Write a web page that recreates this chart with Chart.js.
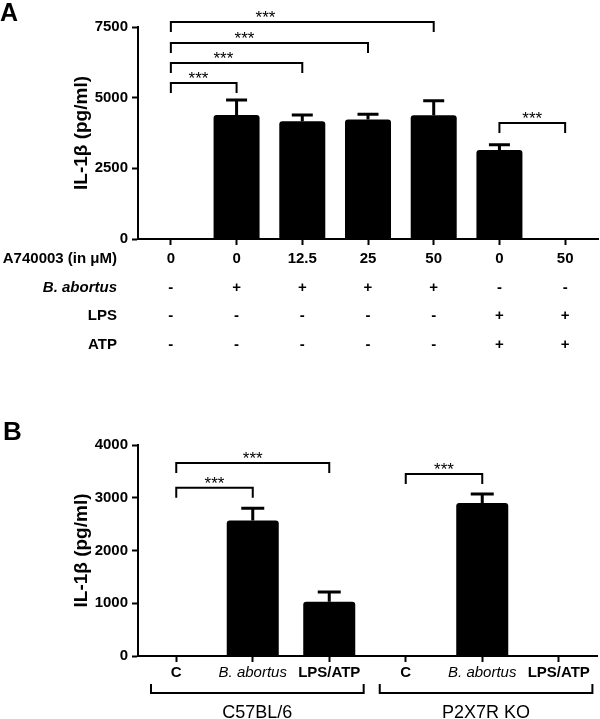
<!DOCTYPE html>
<html>
<head>
<meta charset="utf-8">
<script src="https://cdn.jsdelivr.net/npm/chart.js@4.4.1/dist/chart.umd.min.js"></script>
<style>
body{margin:0;background:#fff;}
#wrap{position:relative;width:600px;height:719px;}
#chart-a{position:absolute;left:0;top:0;}
#chart-b{position:absolute;left:0;top:370px;}
</style>
</head>
<body>
<div id="wrap">
<canvas id="chart-a" width="600" height="370"></canvas>
<canvas id="chart-b" width="600" height="349"></canvas>
</div>
<script>
// panel A
var doseA = ["0", "0", "12.5", "25", "50", "0", "50"];
var abortusA = ["-", "+", "+", "+", "+", "-", "-"];
var lpsA = ["-", "-", "-", "-", "-", "+", "+"];
var atpA = ["-", "-", "-", "-", "-", "+", "+"];
var il1bA = [0, 4390, 4170, 4230, 4380, 3150, 0];
var semA = [0, 530, 215, 180, 510, 180, 0];
var ticksA = [0, 2500, 5000, 7500];
var rowNamesA = ["A740003 (in \u03bcM)", "B. abortus", "LPS", "ATP"];
// [from, to, bracket height (pg/ml), where the stars sit]
var sigA = [[0, 1, 5520, 0.42], [0, 2, 6230, 0.8], [0, 3, 6930, 1.12], [0, 4, 7680, 1.44], [5, 6, 4100, 5.5]];

// panel B
var groupsB = ["C", "B. abortus", "LPS/ATP", "C", "B. abortus", "LPS/ATP"];
var il1bB = [0, 2570, 1030, 0, 2900, 0];
var semB = [0, 230, 185, 0, 170, 0];
var ticksB = [0, 1000, 2000, 3000, 4000];
var sigB = [[0, 1, 3190, 0.5], [0, 2, 3660, 1], [3, 4, 3450, 3.5]];
var strainB = [["C57BL/6", -0.33, 2.45], ["P2X7R KO", 2.66, 5.44]];

var FONT = "'Liberation Sans', Arial, Helvetica, sans-serif";
var TICK_LEN = 6;

function errorBars(sem, cap) {
    return {
        id: 'errbars',
        afterDatasetsDraw: function (chart) {
            var ctx = chart.ctx, y = chart.scales.y;
            var vals = chart.data.datasets[0].data;
            ctx.save();
            ctx.strokeStyle = '#000';
            ctx.lineWidth = 3;
            chart.getDatasetMeta(0).data.forEach(function (bar, i) {
                if (!sem[i]) return;
                var top = y.getPixelForValue(vals[i] + sem[i]);
                ctx.beginPath();
                ctx.moveTo(bar.x, bar.y);
                ctx.lineTo(bar.x, top);
                ctx.moveTo(bar.x - cap / 2, top);
                ctx.lineTo(bar.x + cap / 2, top);
                ctx.stroke();
            });
            ctx.restore();
        }
    };
}

function brackets(sig) {
    return {
        id: 'sig',
        afterDatasetsDraw: function (chart) {
            var ctx = chart.ctx, x = chart.scales.x, y = chart.scales.y;
            ctx.save();
            ctx.strokeStyle = '#000';
            ctx.fillStyle = '#000';
            ctx.lineWidth = 2;
            ctx.font = '17px ' + FONT;
            ctx.textAlign = 'center';
            ctx.textBaseline = 'alphabetic';
            sig.forEach(function (s) {
                var x1 = x.getPixelForValue(s[0]), x2 = x.getPixelForValue(s[1]);
                var yy = y.getPixelForValue(s[2]);
                ctx.beginPath();
                ctx.moveTo(x1, yy + 10);
                ctx.lineTo(x1, yy);
                ctx.lineTo(x2, yy);
                ctx.lineTo(x2, yy + 10);
                ctx.stroke();
                ctx.fillText('***', x.getPixelForValue(s[3]), yy + 1);
            });
            ctx.restore();
        }
    };
}

function panelLetter(letter, px, py, size) {
    return {
        id: 'letter',
        afterDraw: function (chart) {
            var ctx = chart.ctx;
            ctx.save();
            ctx.fillStyle = '#000';
            ctx.font = 'bold ' + size + 'px ' + FONT;
            ctx.textAlign = 'left';
            ctx.textBaseline = 'alphabetic';
            ctx.fillText(letter, px, py);
            ctx.restore();
        }
    };
}

function yAxis(ticks, max) {
    return {
        min: 0,
        max: max,
        afterBuildTicks: function (s) { s.ticks = ticks.map(function (v) { return {value: v}; }); },
        grid: {drawOnChartArea: false, tickLength: TICK_LEN, tickWidth: 2, tickColor: '#000'},
        border: {color: '#000', width: 2},
        ticks: {
            color: '#000', padding: 4, font: {family: FONT, size: 15, weight: 'bold'},
            callback: function (v) { return String(v); }
        },
        title: {
            display: true, text: 'IL-1\u03b2 (pg/ml)', color: '#000',
            font: {family: FONT, size: 19, weight: 'bold'},
            padding: {top: 70, bottom: 0}
        },
        afterFit: function (s) { s.width = 138; }
    };
}

// ---- A ----
var rowLineA = 1.9;
var rowPadA = 0;
var rowHeaders = {
    id: 'rowHeaders',
    afterDraw: function (chart) {
        var ctx = chart.ctx, x = chart.scales.x;
        var lh = 15 * rowLineA;
        ctx.save();
        ctx.fillStyle = '#000';
        ctx.textAlign = 'right';
        ctx.textBaseline = 'middle';
        rowNamesA.forEach(function (name, i) {
            ctx.font = (i === 1 ? 'italic ' : '') + 'bold 15px ' + FONT;
            ctx.fillText(name, 117, x.top + TICK_LEN + rowPadA + lh * (i + 0.5));
        });
        ctx.restore();
    }
};

new Chart(document.getElementById('chart-a'), {
    type: 'bar',
    data: {
        labels: doseA.map(function (d, i) { return [d, abortusA[i], lpsA[i], atpA[i]]; }),
        datasets: [{
            data: il1bA,
            backgroundColor: '#000',
            borderRadius: 3,
            barPercentage: 0.7,
            categoryPercentage: 1
        }]
    },
    options: {
        responsive: false,
        animation: false,
        layout: {padding: {top: 27, right: 2, left: 0, bottom: 0}},
        plugins: {legend: {display: false}, tooltip: {enabled: false}},
        scales: {
            x: {
                offset: true,
                grid: {offset: false, drawOnChartArea: false, tickLength: TICK_LEN, tickWidth: 2, tickColor: '#000'},
                border: {color: '#000', width: 2},
                ticks: {
                    color: '#000', padding: rowPadA, maxRotation: 0, autoSkip: false,
                    font: {family: FONT, size: 15, weight: 'bold', lineHeight: rowLineA}
                },
                afterFit: function (s) { s.height = 131; }
            },
            y: yAxis(ticksA, 7500)
        }
    },
    plugins: [errorBars(semA, 21), brackets(sigA), rowHeaders, panelLetter('A', 0, 21, 25)]
});

// ---- B ----
var strainBrackets = {
    id: 'strains',
    afterDraw: function (chart) {
        var ctx = chart.ctx, x = chart.scales.x;
        var yy = x.top + 37;
        ctx.save();
        ctx.strokeStyle = '#000';
        ctx.fillStyle = '#000';
        ctx.lineWidth = 2;
        ctx.font = '18px ' + FONT;
        ctx.textAlign = 'center';
        ctx.textBaseline = 'middle';
        strainB.forEach(function (g) {
            var x1 = x.getPixelForValue(g[1]), x2 = x.getPixelForValue(g[2]);
            ctx.beginPath();
            ctx.moveTo(x1, yy - 9);
            ctx.lineTo(x1, yy);
            ctx.lineTo(x2, yy);
            ctx.lineTo(x2, yy - 9);
            ctx.stroke();
            ctx.fillText(g[0], x.getPixelForValue((g[1] + g[2]) / 2), x.top + 57);
        });
        ctx.restore();
    }
};

new Chart(document.getElementById('chart-b'), {
    type: 'bar',
    data: {
        labels: groupsB,
        datasets: [{
            data: il1bB,
            backgroundColor: '#000',
            borderRadius: 3,
            barPercentage: 0.68,
            categoryPercentage: 1
        }]
    },
    options: {
        responsive: false,
        animation: false,
        layout: {padding: {top: 75, right: 3, left: 0, bottom: 0}},
        plugins: {legend: {display: false}, tooltip: {enabled: false}},
        scales: {
            x: {
                offset: true,
                grid: {offset: false, drawOnChartArea: false, tickLength: TICK_LEN, tickWidth: 2, tickColor: '#000'},
                border: {color: '#000', width: 2},
                ticks: {
                    color: '#000', padding: 2, maxRotation: 0, autoSkip: false,
                    font: function (c) {
                        var it = groupsB[c.index] === 'B. abortus';
                        return {family: FONT, size: 15, weight: it ? 'normal' : 'bold', style: it ? 'italic' : 'normal'};
                    }
                },
                afterFit: function (s) { s.height = 63; }
            },
            y: yAxis(ticksB, 4000)
        }
    },
    plugins: [errorBars(semB, 23), brackets(sigB), strainBrackets, panelLetter('B', 3, 70, 26)]
});
</script>
</body>
</html>
